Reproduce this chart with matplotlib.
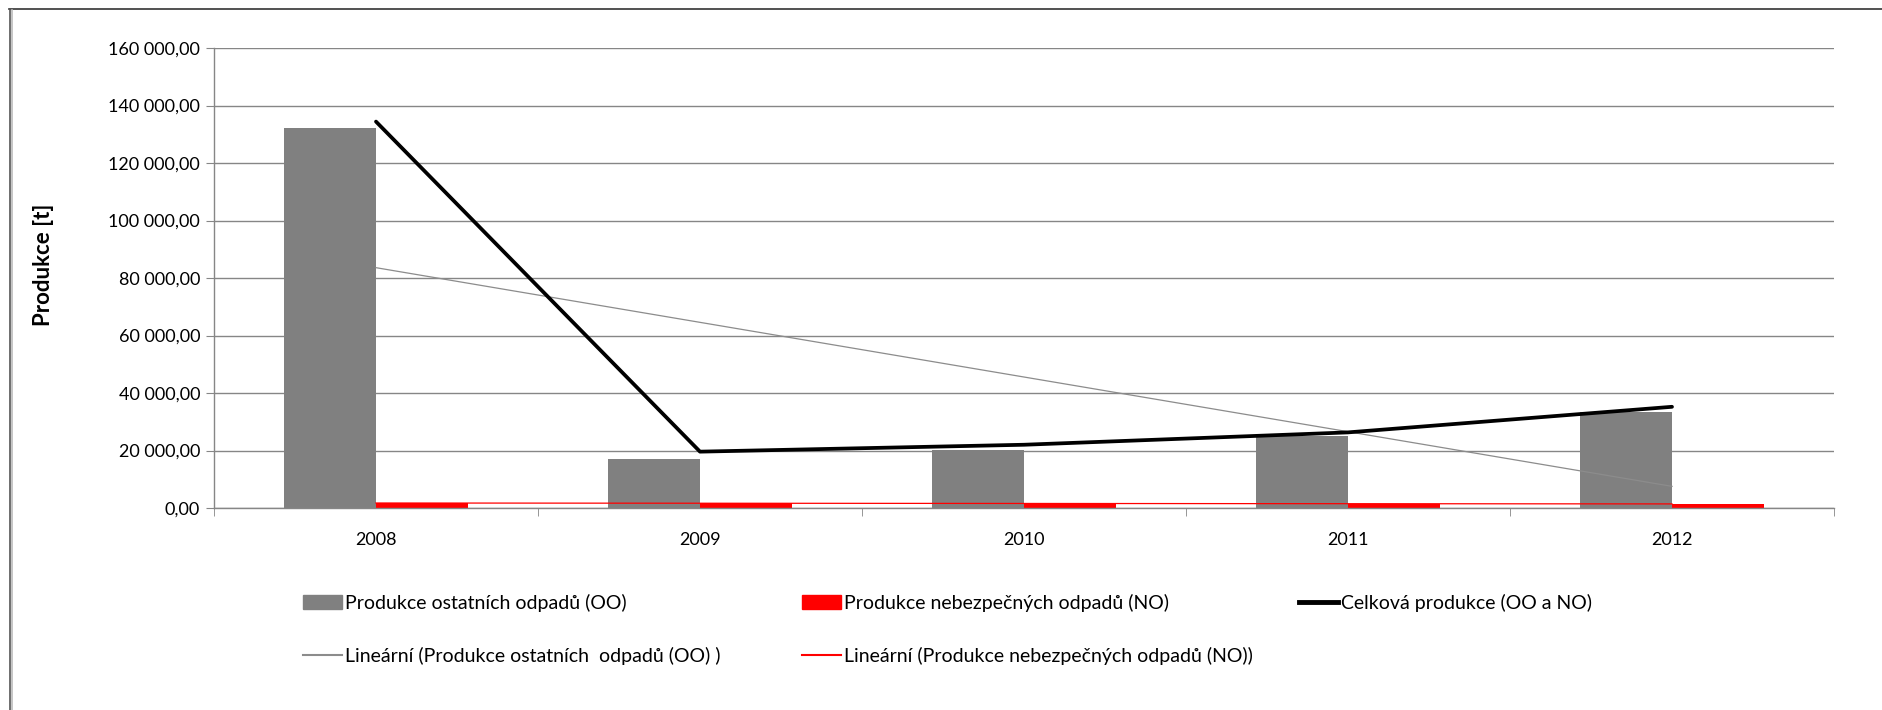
import numpy as np
import matplotlib.pyplot as plt
from matplotlib.lines import Line2D
from matplotlib.patches import Patch

# data
years = ['2008', '2009', '2010', '2011', '2012']
oo = [132300, 17150, 20050, 25000, 33300]     # Produkce ostatních odpadů
no = [1700, 1700, 1600, 1500, 1400]           # Produkce nebezpečných odpadů
total = [134400, 19600, 22000, 26300, 35200]  # Celková produkce
yticks = [0, 20000, 40000, 60000, 80000, 100000, 120000, 140000, 160000]

plt.rcParams['font.family'] = ['Lato', 'DejaVu Sans']

W, H = 1883, 710
fig = plt.figure(figsize=(W / 100, H / 100), dpi=100)
ax = fig.add_axes([214 / W, 1 - 508 / H, (1834 - 214) / W, (508 - 48) / H])

grid_c = '#868686'
x = np.arange(len(years))
bw = 0.285

ax.bar(x - bw / 2, oo, bw, color='#808080', zorder=2)
ax.bar(x + bw / 2, no, bw, color='#ff0000', zorder=2)

# linear trendlines
k1, q1 = np.polyfit(x, oo, 1)
k2, q2 = np.polyfit(x, no, 1)
ax.plot(x, k1 * x + q1, color='#8c8c8c', lw=0.9, zorder=3)
ax.plot(x, k2 * x + q2, color='#ff0000', lw=0.9, zorder=3)

ax.plot(x, total, color='black', lw=2.7, zorder=4, solid_capstyle='round')

ax.set_xlim(-0.5, 4.5)
ax.set_ylim(0, 160000)
ax.set_yticks(yticks)
ax.set_yticklabels([f'{v:,.2f}'.replace(',', ' ').replace('.', ',') for v in yticks])
ax.set_xticks(x)
ax.set_xticklabels(years)
ax.set_xticks(np.arange(-0.5, 5, 1), minor=True)

ax.set_axisbelow(True)
ax.yaxis.grid(True, color=grid_c, lw=1)
for s in ['top', 'right']:
    ax.spines[s].set_visible(False)
for s in ['left', 'bottom']:
    ax.spines[s].set_color(grid_c)
    ax.spines[s].set_linewidth(1)

ax.tick_params(axis='y', length=6, color=grid_c, pad=4, labelsize=13)
ax.tick_params(axis='x', which='major', length=0, pad=17, labelsize=13)
ax.tick_params(axis='x', which='minor', length=6, color=grid_c)

ax.set_ylabel('Produkce [t]', fontsize=16, fontweight='bold')
ax.yaxis.set_label_coords((44 - 214) / (1834 - 214), (508 - 265) / (508 - 48))
ax.yaxis.label.set_va('center')

# legend entries placed like the original
entries = [
    (Patch(color='#808080'), 'Produkce ostatních odpadů (OO)', 303, 603),
    (Patch(color='#ff0000'), 'Produkce nebezpečných odpadů (NO)', 802, 603),
    (Line2D([], [], color='black', lw=3.5), 'Celková produkce (OO a NO)', 1299, 603),
    (Line2D([], [], color='#8c8c8c', lw=1.5), 'Lineární (Produkce ostatních  odpadů (OO) )', 303, 656),
    (Line2D([], [], color='#ff0000', lw=1.5), 'Lineární (Produkce nebezpečných odpadů (NO))', 802, 656),
]
for h, lab, px, py in entries:
    fig.legend([h], [lab], loc='center left', bbox_to_anchor=(px / W, 1 - py / H),
               frameon=False, borderpad=0, borderaxespad=0, fontsize=14,
               handlelength=2.0, handletextpad=0.15, handleheight=0.7)

# chart area border
fig.add_artist(Line2D([9 / W, 1], [1 - 9 / H, 1 - 9 / H], color='#333333', lw=1.2))
fig.add_artist(Line2D([10 / W, 10 / W], [0, 1 - 9 / H], color='#555555', lw=1.2))
fig.add_artist(Line2D([12.5 / W, 12.5 / W], [0, 1 - 10 / H], color='#bbbbbb', lw=1.2))

fig.savefig('out.png', dpi=100)
